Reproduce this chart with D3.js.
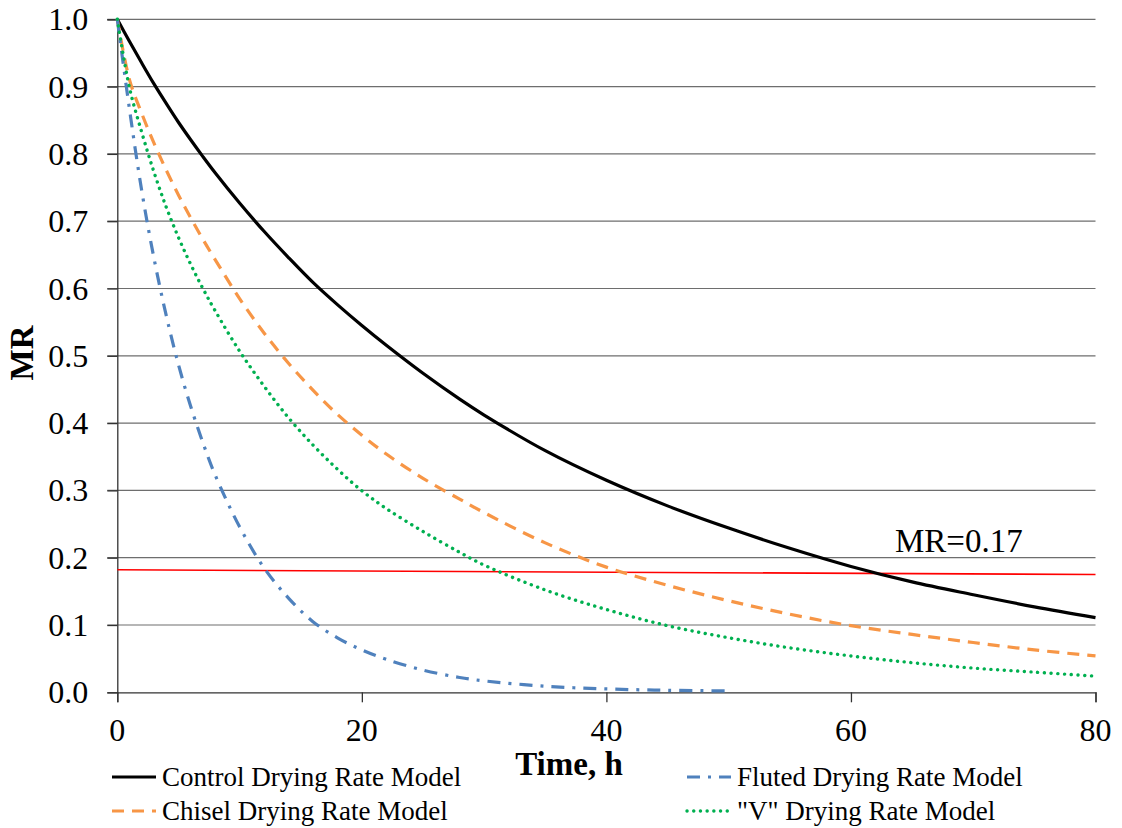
<!DOCTYPE html>
<html>
<head>
<meta charset="utf-8">
<script src="https://cdn.jsdelivr.net/npm/d3@7"></script>
<style>
  html, body { margin: 0; padding: 0; background: #fff; }
  svg { display: block; font-family: "Liberation Serif", "Times New Roman", serif; }
</style>
</head>
<body>
<script>
// values (time in h, moisture ratio)
const times = [0, 1, 2, 3, 4, 5, 6, 7, 8, 10, 12, 14, 16, 18, 20, 22, 25, 28, 30, 35, 40, 45, 50, 55, 60, 65, 70, 75, 80];
const controlMR = [1.0, 0.967, 0.935, 0.904, 0.875, 0.847, 0.821, 0.796, 0.772, 0.727, 0.685, 0.646, 0.609, 0.576, 0.545, 0.5156, 0.474, 0.4356, 0.412, 0.359, 0.315, 0.277, 0.244, 0.214, 0.187, 0.164, 0.145, 0.127, 0.111];
const chiselMR = [1.0, 0.91, 0.86, 0.816, 0.776, 0.739, 0.705, 0.673, 0.643, 0.585, 0.534, 0.489, 0.449, 0.413, 0.382, 0.354, 0.318, 0.287, 0.267, 0.222, 0.186, 0.159, 0.136, 0.116, 0.099, 0.086, 0.074, 0.063, 0.054];
const vMR = [1.0, 0.898, 0.832, 0.773, 0.721, 0.676, 0.636, 0.600, 0.567, 0.507, 0.455, 0.408, 0.3675, 0.3315, 0.2995, 0.273, 0.239, 0.208, 0.189, 0.152, 0.123, 0.099, 0.081, 0.066, 0.054, 0.044, 0.036, 0.030, 0.024];
const flutedTimes = [0, 1, 2, 3, 4, 5, 6, 7, 8, 10, 12, 14, 16, 18, 20, 22, 25, 28, 30, 35, 40, 45, 50];
const flutedMR = [1.0, 0.866, 0.745, 0.645, 0.56, 0.487, 0.425, 0.371, 0.323, 0.246, 0.185, 0.14, 0.105, 0.081, 0.063, 0.049, 0.033, 0.022, 0.017, 0.009, 0.005, 0.003, 0.002];
const thresholdTimes = [0, 80];
const thresholdMR = [0.182, 0.175];
const thresholdLabel = "MR=0.17";
const xTicks = [0, 20, 40, 60, 80];
const yTicks = [0, 0.1, 0.2, 0.3, 0.4, 0.5, 0.6, 0.7, 0.8, 0.9, 1.0];

const series = [
  {name: "Control Drying Rate Model", t: times, v: controlMR, color: "#000000", dash: null, width: 3.2, cap: "butt"},
  {name: "Chisel Drying Rate Model", t: times, v: chiselMR, color: "#F79646", dash: "12,8", width: 3.2, cap: "butt"},
  {name: "Fluted Drying Rate Model", t: flutedTimes, v: flutedMR, color: "#4F81BD", dash: "13,8,3,8", width: 3.2, cap: "butt"},
  {name: "\"V\" Drying Rate Model", t: times, v: vMR, color: "#00B050", dash: "0.1,6.6", width: 3.4, cap: "round"}
];

const W = 1122, H = 828;
const svg = d3.select("body").append("svg").attr("width", W).attr("height", H);

const x = d3.scaleLinear().domain([0, 80]).range([117.3, 1095.5]);
const y = d3.scaleLinear().domain([0, 1]).range([692.3, 19.3]);

// gridlines
svg.append("g").attr("class", "grid")
  .selectAll("line").data(yTicks.filter(d => d > 0)).enter()
  .append("line")
    .attr("x1", x(0) - 10).attr("x2", x(80))
    .attr("y1", d => y(d)).attr("y2", d => y(d))
    .style("stroke", "#6e6e6e").style("stroke-width", 1.2);

// axes (lines and ticks from d3, labels drawn below in the page font)
let axis_y = svg.append("g").attr("transform", `translate(${x(0)},0)`)
  .call(d3.axisLeft(y).tickValues(yTicks).tickSize(10).tickFormat(""));
let axis_x = svg.append("g").attr("transform", `translate(0,${y(0)})`)
  .call(d3.axisBottom(x).tickValues(xTicks).tickSize(10).tickFormat(""));
[axis_y, axis_x].forEach(a => {
  a.select(".domain").style("stroke", "#333").style("stroke-width", 1.3);
  a.selectAll(".tick line").style("stroke", "#333").style("stroke-width", 1.3);
});

svg.append("g").attr("class", "ylabels")
  .selectAll("text").data(yTicks).enter()
  .append("text")
    .attr("x", x(0) - 29).attr("y", d => y(d) + 11)
    .style("text-anchor", "end").style("font-size", "32px")
    .text(d3.format(".1f"));
svg.append("g").attr("class", "xlabels")
  .selectAll("text").data(xTicks).enter()
  .append("text")
    .attr("x", d => x(d)).attr("y", y(0) + 49)
    .style("text-anchor", "middle").style("font-size", "32px")
    .text(d3.format("d"));

const line = (ts, vs) => d3.line()
  .x((d, i) => x(ts[i])).y((d, i) => y(vs[i]))
  .curve(d3.curveCatmullRom.alpha(0.5))(vs);

// threshold line
svg.append("path")
  .attr("d", line(thresholdTimes, thresholdMR))
  .style("fill", "none").style("stroke", "#FF0000").style("stroke-width", 1.6);

svg.append("text")
  .attr("x", x(63.6)).attr("y", y(0.2085))
  .style("font-size", "33px")
  .text(thresholdLabel);

// curves
svg.append("g").attr("class", "curves")
  .selectAll("path").data(series).enter()
  .append("path")
    .attr("d", s => line(s.t, s.v))
    .style("fill", "none")
    .style("stroke", s => s.color)
    .style("stroke-width", s => s.width)
    .style("stroke-linecap", s => s.cap)
    .style("stroke-dasharray", s => s.dash);

// axis titles
svg.append("text")
  .attr("transform", "translate(33,353) rotate(-90)")
  .style("text-anchor", "middle").style("font-size", "33px").style("font-weight", "bold")
  .text("MR");
svg.append("text")
  .attr("x", 569).attr("y", 775)
  .style("text-anchor", "middle").style("font-size", "33px").style("font-weight", "bold")
  .text("Time, h");

// legend
const legendPos = [[112, 777], [112, 811], [687, 777], [687, 811]];
let legend = svg.append("g").attr("class", "legend")
  .selectAll("g").data(series).enter()
  .append("g")
    .attr("transform", (s, i) => `translate(${legendPos[i][0]},${legendPos[i][1]})`);
legend.append("line")
  .attr("x1", 0).attr("x2", 44).attr("y1", 0).attr("y2", 0)
  .style("stroke", s => s.color)
  .style("stroke-width", s => s.width)
  .style("stroke-linecap", s => s.cap)
  .style("stroke-dasharray", s => s.dash);
legend.append("text")
  .attr("x", 50).attr("y", 9)
  .style("font-size", "27px")
  .text(s => s.name);
</script>
</body>
</html>
